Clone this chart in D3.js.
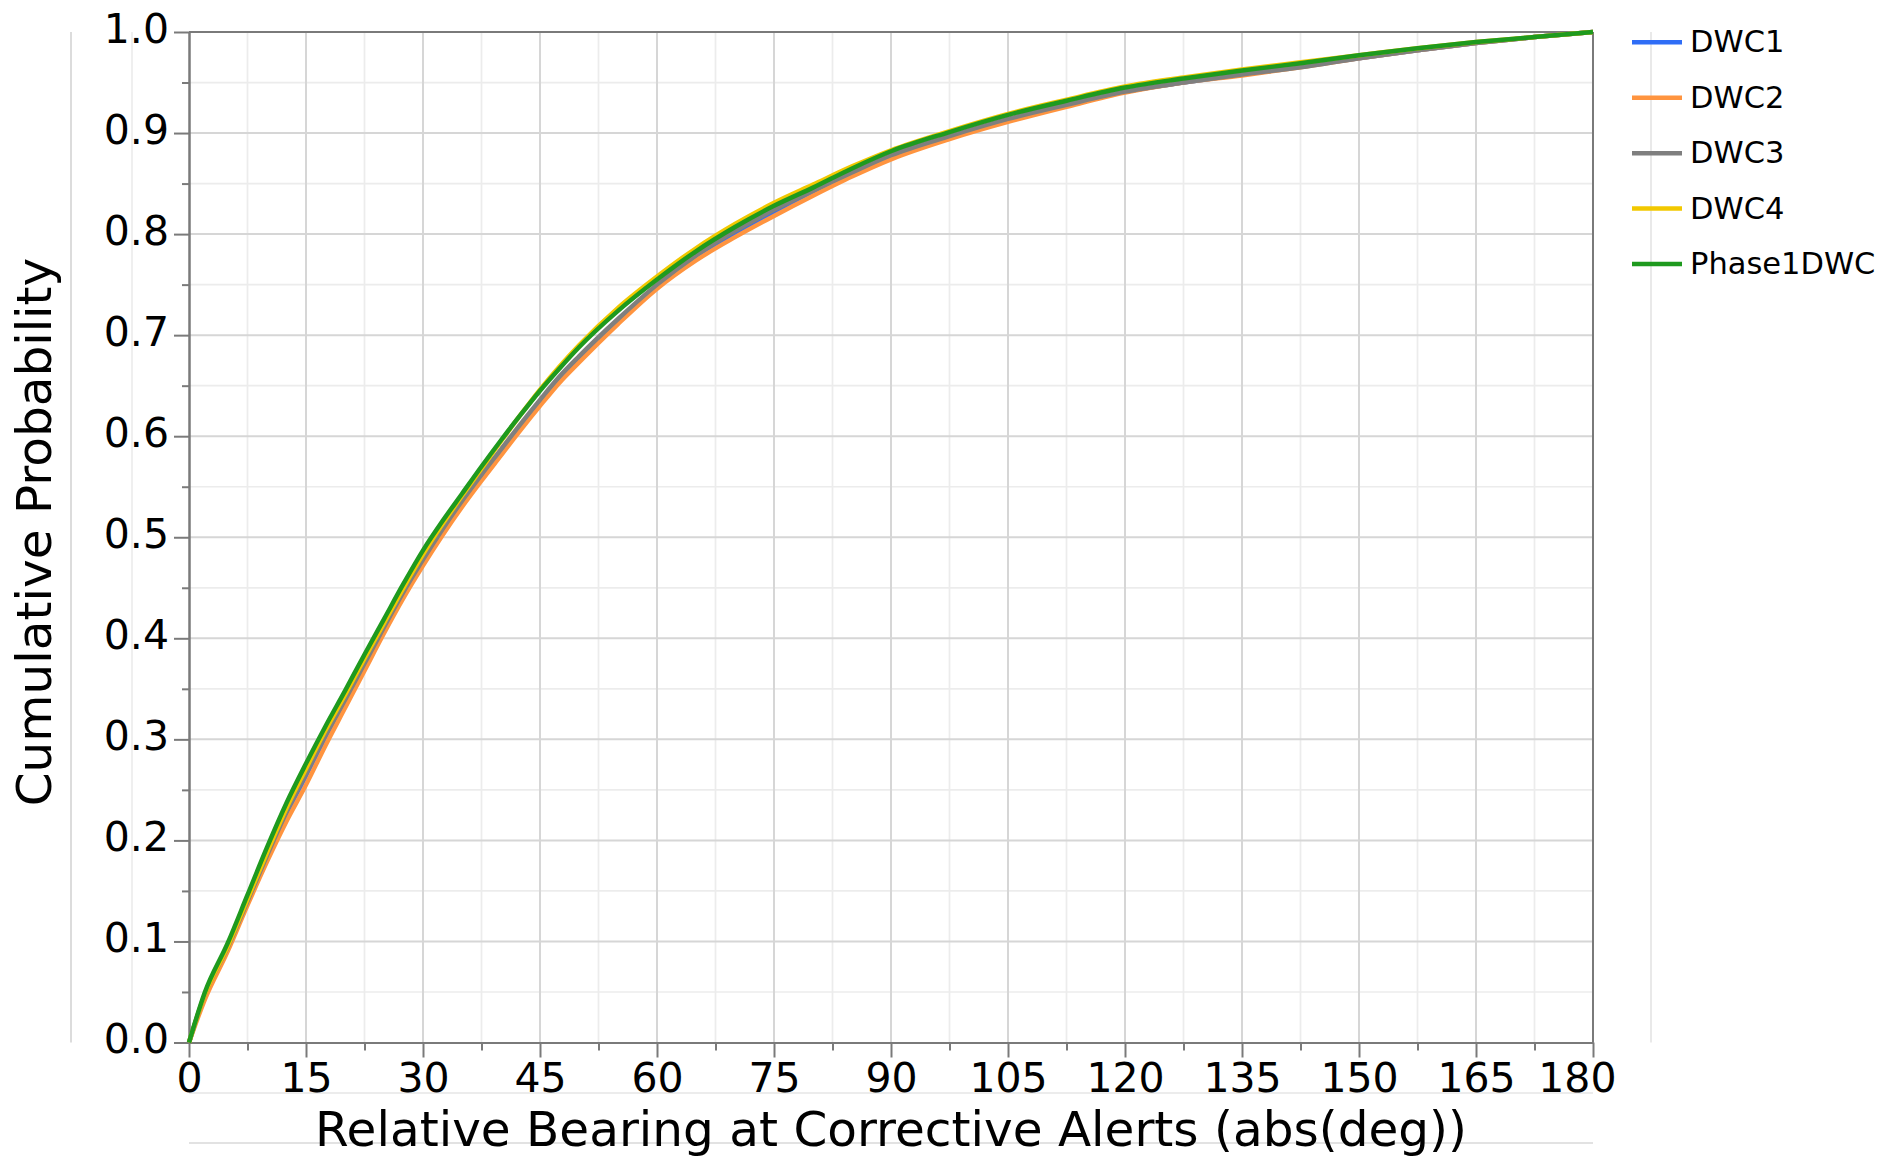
<!DOCTYPE html>
<html>
<head>
<meta charset="utf-8">
<script src="https://cdn.jsdelivr.net/npm/d3@7"></script>
<style>
  html, body { margin: 0; padding: 0; background: #fff; }
  svg { display: block; }
  text { font-family: "DejaVu Sans", sans-serif; fill: #000; }
</style>
</head>
<body>
<svg id="chart" width="1892" height="1160"></svg>
<script>
// ---- data ----
const bearing = [0, 2, 5, 7.5, 10, 12.5, 15, 17.5, 20, 22.5, 25, 27.5, 30, 32.5, 35, 37.5, 40, 42.5, 45, 47.5, 50, 55, 60, 65, 70, 75, 80, 85, 90, 97.5, 105, 112.5, 120, 127.5, 135, 142.5, 150, 157.5, 165, 172.5, 180];

const dwc1 = [0, 0.046, 0.094, 0.139, 0.184, 0.226, 0.264, 0.302, 0.337, 0.373, 0.409, 0.445, 0.476, 0.506, 0.534, 0.560, 0.585, 0.610, 0.634, 0.657, 0.677, 0.714, 0.748, 0.777, 0.801, 0.822, 0.842, 0.860, 0.877, 0.896, 0.913, 0.928, 0.941, 0.950, 0.958, 0.966, 0.974, 0.982, 0.989, 0.995, 1.0];
const dwc2 = [0, 0.042, 0.091, 0.136, 0.179, 0.219, 0.255, 0.294, 0.331, 0.368, 0.405, 0.440, 0.472, 0.502, 0.530, 0.556, 0.581, 0.606, 0.630, 0.653, 0.673, 0.711, 0.746, 0.774, 0.797, 0.818, 0.838, 0.857, 0.874, 0.894, 0.911, 0.926, 0.940, 0.950, 0.957, 0.965, 0.974, 0.982, 0.989, 0.995, 1.0];
const dwc3 = [0, 0.047, 0.095, 0.140, 0.185, 0.228, 0.266, 0.304, 0.339, 0.375, 0.411, 0.446, 0.478, 0.508, 0.536, 0.562, 0.587, 0.612, 0.636, 0.659, 0.679, 0.716, 0.750, 0.779, 0.803, 0.824, 0.843, 0.861, 0.878, 0.897, 0.914, 0.928, 0.941, 0.950, 0.958, 0.965, 0.974, 0.982, 0.989, 0.995, 1.0];
const dwc4 = [0, 0.047, 0.096, 0.142, 0.188, 0.232, 0.271, 0.309, 0.344, 0.380, 0.415, 0.450, 0.483, 0.513, 0.541, 0.568, 0.595, 0.621, 0.646, 0.669, 0.690, 0.727, 0.758, 0.786, 0.810, 0.831, 0.849, 0.867, 0.883, 0.902, 0.919, 0.933, 0.946, 0.955, 0.963, 0.970, 0.977, 0.984, 0.990, 0.995, 1.0];
const phase1 = [0, 0.049, 0.099, 0.146, 0.193, 0.237, 0.276, 0.313, 0.348, 0.384, 0.419, 0.454, 0.487, 0.516, 0.543, 0.570, 0.596, 0.621, 0.645, 0.667, 0.688, 0.724, 0.755, 0.783, 0.807, 0.828, 0.846, 0.865, 0.882, 0.901, 0.918, 0.932, 0.945, 0.954, 0.962, 0.969, 0.977, 0.984, 0.990, 0.995, 1.0];

const seriesNames = ["DWC1", "DWC2", "DWC3", "DWC4", "Phase1DWC"];
const seriesValues = [dwc1, dwc2, dwc3, dwc4, phase1];
const seriesColors = ["#2f6df6", "#ff943f", "#7f7f7f", "#f2c800", "#1e9a1e"];

const xMajorTicks = [0, 15, 30, 45, 60, 75, 90, 105, 120, 135, 150, 165, 180];
const xMinorTicks = [7.5, 22.5, 37.5, 52.5, 67.5, 82.5, 97.5, 112.5, 127.5, 142.5, 157.5, 172.5];
const yMajorTicks = [0, 0.1, 0.2, 0.3, 0.4, 0.5, 0.6, 0.7, 0.8, 0.9, 1.0];
const yMinorTicks = [0.05, 0.15, 0.25, 0.35, 0.45, 0.55, 0.65, 0.75, 0.85, 0.95];

const xTitle = "Relative Bearing at Corrective Alerts (abs(deg))";
const yTitle = "Cumulative Probability";

// ---- layout ----
const L = 189, R = 1593, T = 32, B = 1042.5;
const x = d3.scaleLinear().domain([0, 180]).range([L, R]);
const y = d3.scaleLinear().domain([0, 1]).range([B, T]);

const svg = d3.select("#chart");

// decorative frame lines of the original report layout
const deco = svg.append("g").attr("stroke-width", 2).attr("fill", "none");
deco.append("line").attr("x1", 71).attr("x2", 71).attr("y1", T).attr("y2", B).attr("stroke", "#dcdcdc");
deco.append("line").attr("x1", 132).attr("x2", 132).attr("y1", T).attr("y2", B).attr("stroke", "#efefef");
deco.append("line").attr("x1", 1651).attr("x2", 1651).attr("y1", T).attr("y2", B).attr("stroke", "#e9e9e9");
deco.append("line").attr("x1", L).attr("x2", R).attr("y1", 1093).attr("y2", 1093).attr("stroke", "#ececec");
deco.append("line").attr("x1", L).attr("x2", R).attr("y1", 1143).attr("y2", 1143).attr("stroke", "#e2e2e2");

// gridlines
const grid = svg.append("g");
grid.selectAll(".vminor").data(xMinorTicks).join("line")
  .attr("class", "vminor")
  .attr("x1", d => x(d)).attr("x2", d => x(d)).attr("y1", T).attr("y2", B)
  .attr("stroke", "#ececec").attr("stroke-width", 1.7);
grid.selectAll(".hminor").data(yMinorTicks).join("line")
  .attr("class", "hminor")
  .attr("x1", L).attr("x2", R).attr("y1", d => y(d)).attr("y2", d => y(d))
  .attr("stroke", "#ececec").attr("stroke-width", 1.7);
grid.selectAll(".vmajor").data(xMajorTicks.slice(1, -1)).join("line")
  .attr("class", "vmajor")
  .attr("x1", d => x(d)).attr("x2", d => x(d)).attr("y1", T).attr("y2", B)
  .attr("stroke", "#d6d6d6").attr("stroke-width", 2);
grid.selectAll(".hmajor").data(yMajorTicks.slice(1, -1)).join("line")
  .attr("class", "hmajor")
  .attr("x1", L).attr("x2", R).attr("y1", d => y(d)).attr("y2", d => y(d))
  .attr("stroke", "#d6d6d6").attr("stroke-width", 2);

// frame (top and right)
svg.append("line").attr("x1", L).attr("x2", R).attr("y1", T).attr("y2", T)
  .attr("stroke", "#7a7a7a").attr("stroke-width", 2);
svg.append("line").attr("x1", R).attr("x2", R).attr("y1", T).attr("y2", B)
  .attr("stroke", "#7a7a7a").attr("stroke-width", 2);

// axes
const axisColor = "#7a7a7a";
function styleAxis(g) {
  g.select(".domain").attr("stroke", axisColor).attr("stroke-width", 2);
  g.selectAll(".tick line").attr("stroke", axisColor).attr("stroke-width", 2);
  g.selectAll(".tick text").attr("font-family", "DejaVu Sans").attr("fill", "#000");
}

const xAxisMinor = svg.append("g").attr("transform", `translate(0,${B})`)
  .call(d3.axisBottom(x).tickValues(xMinorTicks).tickSize(8).tickFormat("").tickSizeOuter(0));
styleAxis(xAxisMinor);
const xAxis = svg.append("g").attr("transform", `translate(0,${B})`)
  .call(d3.axisBottom(x).tickValues(xMajorTicks).tickSize(15).tickSizeOuter(0).tickFormat(d3.format("d")).tickPadding(0));
styleAxis(xAxis);
xAxis.selectAll(".tick text").attr("font-size", 41).attr("y", 0).attr("dy", 0)
  .attr("transform", "translate(0,49)")
  .attr("text-anchor", (d, i, n) => i === n.length - 1 ? "end" : "middle")
  .attr("x", (d, i, n) => i === n.length - 1 ? 23 : 0);

const yAxisMinor = svg.append("g").attr("transform", `translate(${L},0)`)
  .call(d3.axisLeft(y).tickValues(yMinorTicks).tickSize(7).tickFormat("").tickSizeOuter(0));
styleAxis(yAxisMinor);
const yAxis = svg.append("g").attr("transform", `translate(${L},0)`)
  .call(d3.axisLeft(y).tickValues(yMajorTicks).tickSize(15).tickSizeOuter(0).tickFormat(d3.format(".1f")));
styleAxis(yAxis);
yAxis.selectAll(".tick text").attr("font-size", 41).attr("x", -20).attr("dy", 10);

// curves
const line = d3.line().x(d => x(d[0])).y(d => y(d[1])).curve(d3.curveMonotoneX);
seriesValues.forEach((vals, i) => {
  svg.append("path")
    .datum(bearing.map((b, j) => [b, vals[j]]))
    .attr("fill", "none")
    .attr("stroke", seriesColors[i])
    .attr("stroke-width", 4.5)
    .attr("stroke-linejoin", "round")
    .attr("d", line);
});

// axis titles
svg.append("text").attr("x", (L + R) / 2).attr("y", 1146)
  .attr("text-anchor", "middle").attr("font-size", 48.5).text(xTitle);
svg.append("text").attr("transform", `translate(51,532) rotate(-90)`)
  .attr("text-anchor", "middle").attr("font-size", 48.5).text(yTitle);

// legend
const legend = svg.append("g");
const legY = d3.scaleLinear().domain([0, 4]).range([42.3, 264]);
seriesNames.forEach((name, i) => {
  legend.append("line").attr("x1", 1632).attr("x2", 1682)
    .attr("y1", legY(i)).attr("y2", legY(i))
    .attr("stroke", seriesColors[i]).attr("stroke-width", 4.5);
  legend.append("text").attr("x", 1690).attr("y", legY(i) + 10)
    .attr("font-size", 30.5).text(name);
});
</script>
</body>
</html>
